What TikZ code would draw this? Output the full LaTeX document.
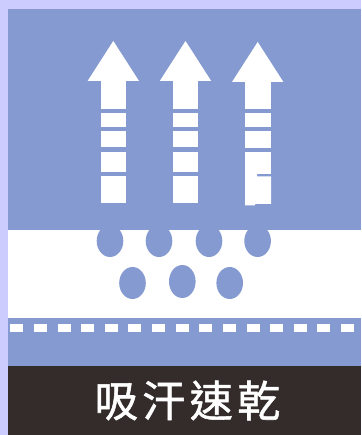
\documentclass[tikz,border=0pt]{standalone}
\usepackage{fontspec}
\newfontfamily\cjk[FakeBold=1.2]{Noto Sans CJK TC}
\definecolor{edgelilac}{HTML}{CCCCFF}
\definecolor{panelblue}{HTML}{859AD0}
\definecolor{darkbar}{HTML}{332C2B}
\tikzset{
  whiteshape/.style={fill=white,draw=none},
  bluedrop/.style={fill=panelblue,draw=none},
  dashbox/.style={fill=white,draw=none},
  labeltext/.style={text=white,inner sep=0pt,font=\cjk\fontsize{43}{43}\selectfont}
}
\newcommand{\arrowhd}[3]{% centre x, apex y, base y
  \fill[whiteshape] (#1,#2) -- ({#1+25.7},#3) -- ({#1-25.7},#3) -- cycle;}
\newcommand{\seg}[4]{\fill[whiteshape] (#1,#3) rectangle (#2,#4);}
\begin{document}
\begin{tikzpicture}[x=1pt,y=-1pt]
\useasboundingbox (0,0) rectangle (361,435);
\fill[edgelilac] (0,0) rectangle (361,435);
\fill[panelblue] (8,9) rectangle (361,366);
\fill[darkbar] (8,365.5) rectangle (361,435);
\fill[whiteshape] (8,229.5) rectangle (361,318);
% arrows
\arrowhd{113.3}{41}{81}
\seg{101}{126}{81}{109}\seg{101}{126}{113}{127}\seg{101}{126}{131}{147}\seg{101}{126}{152}{172}\seg{101}{126}{176.5}{203}
\arrowhd{185.5}{41}{81}
\seg{173}{198}{81}{109}\seg{173}{198}{113}{127}\seg{173}{198}{131}{147}\seg{173}{198}{152}{172}\seg{173}{198}{176.5}{203}
\arrowhd{257.7}{42}{82}
\seg{245}{271}{82}{109}\seg{245}{271}{113}{127}\seg{245}{271}{131}{148.5}\seg{245}{271}{152}{174.5}
\fill[whiteshape] (245,174) -- (257,174) -- (257,176.5) -- (271,176.5) -- (271,204) -- (255,204) -- (255,205.5) -- (245,205.5) -- cycle;
% drops
\foreach \cx in {110,159,209,257.6}
  \fill[bluedrop] (\cx,241) ellipse [x radius=13.3,y radius=16];
\fill[bluedrop] (132.5,283) ellipse [x radius=13.3,y radius=16];
\fill[bluedrop] (182.3,281.5) ellipse [x radius=13.3,y radius=16.5];
\fill[bluedrop] (229.7,283) ellipse [x radius=13.3,y radius=16];
% dashed strip
\foreach \dx in {10,34,58,81,105,128,152,176,199,223,247,270,294,317,341}
  \fill[dashbox] (\dx,323.5) rectangle ++(13,8.5);
% label
\node[labeltext] (label) at (187.5,400.5) {吸\hspace{4.5pt}汗\hspace{4.5pt}速\hspace{4.5pt}乾};
\end{tikzpicture}
\end{document}
